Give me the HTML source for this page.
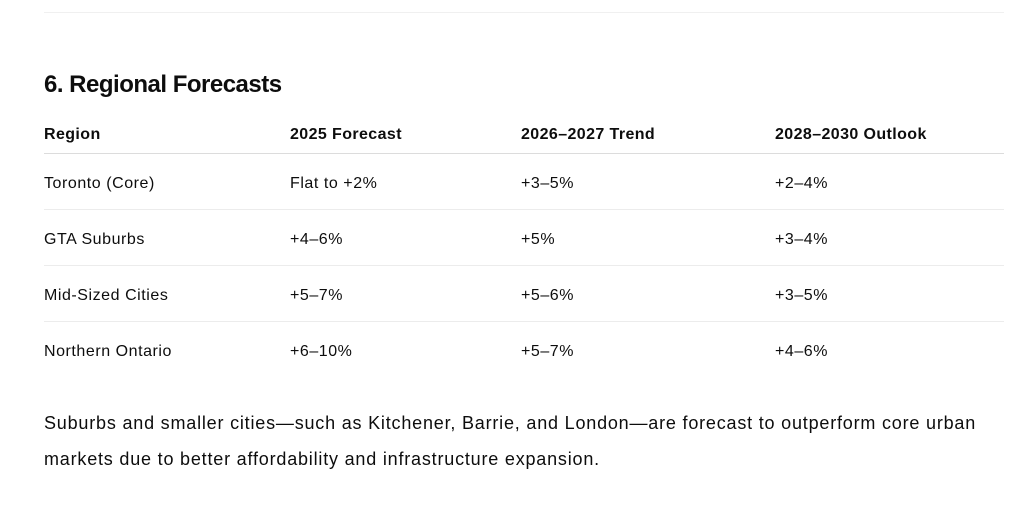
<!DOCTYPE html>
<html><head><meta charset="utf-8"><style>
body{margin:0;background:#fff;width:1013px;height:524px;overflow:hidden;font-family:"Liberation Sans",sans-serif;color:#0d0d0d;position:relative}
.a{position:absolute;white-space:nowrap}
.line{position:absolute;left:44px;width:960px;height:1px;background:#ececec}
h2{position:absolute;margin:0;left:44px;top:69px;font-size:24px;font-weight:bold;line-height:32px;letter-spacing:-0.5px}
.h{font-weight:bold;font-size:16px;top:126px;letter-spacing:0.4px}
.c{font-size:16px;letter-spacing:0.55px}
p{position:absolute;margin:0;left:44px;top:405px;width:950px;font-size:18px;line-height:36px;letter-spacing:0.8px}
</style></head><body>
<div class="line" style="top:12px;background:#f0f0f0"></div>
<h2>6. Regional Forecasts</h2>
<div class="a h" style="left:44px">Region</div>
<div class="a h" style="left:290px">2025 Forecast</div>
<div class="a h" style="left:521px">2026–2027 Trend</div>
<div class="a h" style="left:775px">2028–2030 Outlook</div>
<div class="line" style="top:153px;background:#dcdcdc"></div>
<div class="a c" style="left:44px;top:175px">Toronto (Core)</div>
<div class="a c" style="left:290px;top:175px">Flat to +2%</div>
<div class="a c" style="left:521px;top:175px">+3–5%</div>
<div class="a c" style="left:775px;top:175px">+2–4%</div>
<div class="line" style="top:209px"></div>
<div class="a c" style="left:44px;top:231px">GTA Suburbs</div>
<div class="a c" style="left:290px;top:231px">+4–6%</div>
<div class="a c" style="left:521px;top:231px">+5%</div>
<div class="a c" style="left:775px;top:231px">+3–4%</div>
<div class="line" style="top:265px"></div>
<div class="a c" style="left:44px;top:287px">Mid-Sized Cities</div>
<div class="a c" style="left:290px;top:287px">+5–7%</div>
<div class="a c" style="left:521px;top:287px">+5–6%</div>
<div class="a c" style="left:775px;top:287px">+3–5%</div>
<div class="line" style="top:321px"></div>
<div class="a c" style="left:44px;top:343px">Northern Ontario</div>
<div class="a c" style="left:290px;top:343px">+6–10%</div>
<div class="a c" style="left:521px;top:343px">+5–7%</div>
<div class="a c" style="left:775px;top:343px">+4–6%</div>
<p>Suburbs and smaller cities—such as Kitchener, Barrie, and London—are forecast to outperform core urban markets due to better affordability and infrastructure expansion.</p>
</body></html>
